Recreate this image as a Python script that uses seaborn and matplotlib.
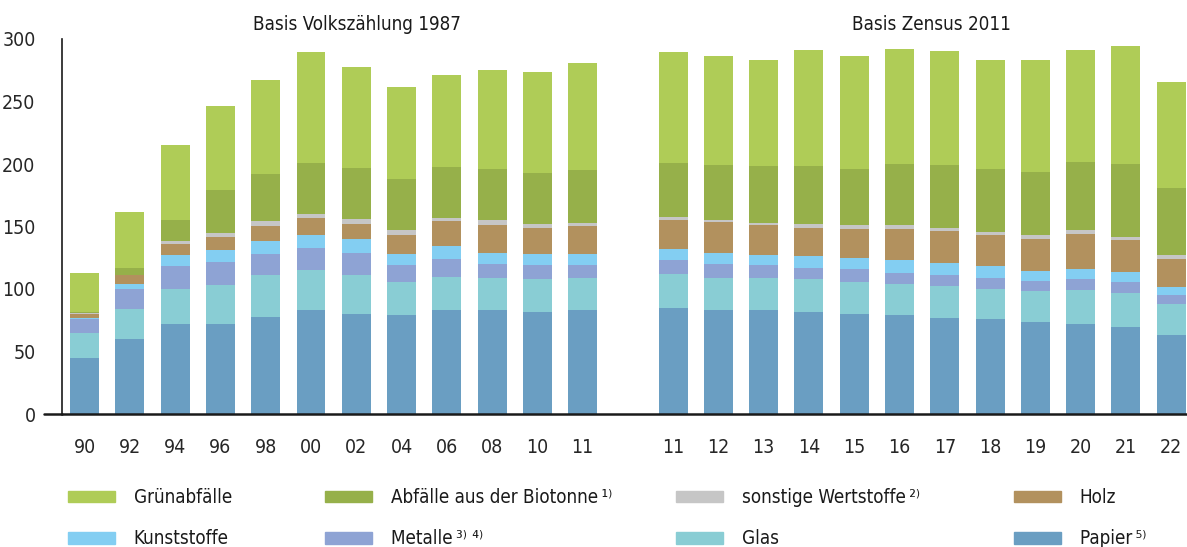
import pandas as pd
import seaborn as sns
import matplotlib.pyplot as plt
import matplotlib.patches as mpatches

# years: old basis (Volkszählung 1987) and new basis (Zensus 2011)
years_old = ["90", "92", "94", "96", "98", "00", "02", "04", "06", "08", "10", "11"]
years_new = ["11", "12", "13", "14", "15", "16", "17", "18", "19", "20", "21", "22"]

# kg per inhabitant (bottom to top)
papier = [45, 60, 72, 72, 77.6, 83.2, 80, 79.2, 83.2, 83.2, 81.6, 83.2,
          84.8, 83.2, 83.2, 81.6, 80, 79.2, 76.8, 76, 73.6, 72, 69.6, 63.2]
glas = [20, 24, 28, 31.2, 33.6, 32, 31.2, 26.4, 26.4, 25.6, 26.4, 25.6,
        27.2, 25.6, 25.6, 26.4, 25.6, 24.8, 25.6, 24, 24.8, 27.2, 27.2, 24.8]
metalle = [10.7, 16, 18.4, 18.4, 16.8, 17.6, 17.6, 13.6, 14.4, 11.2, 11.2, 10.4,
           11.2, 11.2, 10.4, 8.8, 10.4, 8.8, 8.8, 8.8, 8, 8.8, 8.8, 7.2]
kunststoffe = [1.3, 4, 8.8, 9.6, 10.4, 10.4, 11.2, 8.8, 10.4, 8.8, 8.8, 8.8,
               8.8, 8.8, 8, 9.6, 8.8, 10.4, 9.6, 9.6, 8, 8, 8, 6.4]
holz = [2.7, 7, 8.8, 10.4, 12, 13.6, 12, 15.2, 20, 22.4, 20.8, 22.4,
        23.2, 24.8, 24, 22.4, 23.2, 24.8, 25.6, 24.8, 25.6, 28, 25.6, 22.4]
sonstige = [1, 0.5, 2.4, 3.2, 4, 3.2, 4, 4, 2.4, 4, 3.2, 2.4,
            2.4, 1.6, 1.6, 3.2, 3.2, 3.2, 2.4, 2.4, 3.2, 3.2, 2.4, 3.2]
biotonne = [1.1, 5.3, 16.8, 34.4, 37.6, 40.8, 40.8, 40.8, 40.8, 40.8, 40.8, 42.4,
            43.2, 44, 45.6, 46.4, 44.8, 48.8, 50.4, 50.4, 50.4, 54.4, 58.4, 53.6]
gruen = [31.2, 44.8, 60, 67.2, 75.2, 88.8, 80.8, 73.6, 73.6, 79.2, 80.8, 85.6,
         88.8, 87.2, 84.8, 92.8, 90.4, 92, 91.2, 87.2, 89.6, 89.6, 94.4, 84.8]

series = [
    ("Papier\u2009⁵⁾", papier, "#6A9EC2"),
    ("Glas", glas, "#89CDD4"),
    ("Metalle\u2009³⁾ ⁴⁾", metalle, "#8EA3D4"),
    ("Kunststoffe", kunststoffe, "#83CEF2"),
    ("Holz", holz, "#B2915E"),
    ("sonstige Wertstoffe\u2009²⁾", sonstige, "#C6C6C6"),
    ("Abfälle aus der Biotonne\u2009¹⁾", biotonne, "#96B04A"),
    ("Grünabfälle", gruen, "#AFCC57"),
]

keys = ["a" + y for y in years_old] + ["b" + y for y in years_new]
order = ["a" + y for y in years_old] + ["gap"] + ["b" + y for y in years_new]
labels = years_old + [""] + years_new

df = pd.DataFrame({"key": keys})
running = [0.0] * len(keys)
for name, vals, col in series:
    running = [r + v for r, v in zip(running, vals)]
    df[name] = running

sns.set_style("white")
plt.rcParams["font.family"] = ["DejaVu Sans"]
plt.rcParams["font.stretch"] = "condensed"
plt.rcParams["text.color"] = "#1a1a1a"

fig = plt.figure(figsize=(11.87, 5.47), dpi=100)
ax = fig.add_axes([62 / 1187, 133 / 547, 1 - 62 / 1187, 375 / 547])

# stacked look: draw cumulative totals from the top layer down
for name, vals, col in reversed(series):
    sns.barplot(data=df, x="key", y=name, order=order, color=col,
                saturation=1, width=0.64, linewidth=0, ax=ax)

ax.set_xlim(-0.5, 24.35)
ax.set_ylim(0, 300)
ax.set_yticks([0, 50, 100, 150, 200, 250, 300])
ax.set_xticks(range(len(order)))
ax.set_xticklabels(labels)
ax.set_xticks([i + 0.5 for i in range(len(order) - 1)], minor=True)
ax.set_xlabel("")
ax.set_ylabel("")
ax.tick_params(axis="y", length=13, width=1.2, pad=6, labelsize=14, color="#1a1a1a")
ax.tick_params(axis="x", which="major", length=0, pad=17, labelsize=14)
ax.tick_params(axis="x", which="minor", length=8, width=1.2, direction="out",
               color="#333333")
for s in ["top", "right"]:
    ax.spines[s].set_visible(False)
ax.spines["left"].set_linewidth(1.2)
ax.spines["left"].set_color("#1a1a1a")
ax.spines["bottom"].set_linewidth(1.8)
ax.spines["bottom"].set_color("#1a1a1a")
ax.axhline(0, xmin=-18 / 1125, xmax=0, color="#1a1a1a", lw=1.8, clip_on=False)

fig.text(357 / 1187, 1 - 25 / 547, "Basis Volkszählung 1987", ha="center",
         va="center", fontsize=13.5)
fig.text(931 / 1187, 1 - 25 / 547, "Basis Zensus 2011", ha="center",
         va="center", fontsize=13.5)

# legend, four columns laid out like the original
handles = {name: mpatches.Patch(color=col, label=name) for name, vals, col in series}
columns = [
    ["Grünabfälle", "Kunststoffe"],
    ["Abfälle aus der Biotonne\u2009¹⁾", "Metalle\u2009³⁾ ⁴⁾"],
    ["sonstige Wertstoffe\u2009²⁾", "Glas"],
    ["Holz", "Papier\u2009⁵⁾"],
]
col_x = [68, 325, 676, 1014]
for names, x in zip(columns, col_x):
    fig.legend(handles=[handles[n] for n in names], loc="upper left",
               bbox_to_anchor=(x / 1187, 1 - 488 / 547), frameon=False,
               fontsize=13.5, handlelength=2.5, handleheight=0.55,
               handletextpad=1.0, labelspacing=1.2, borderpad=0,
               borderaxespad=0)

plt.savefig("out.png", dpi=100)
